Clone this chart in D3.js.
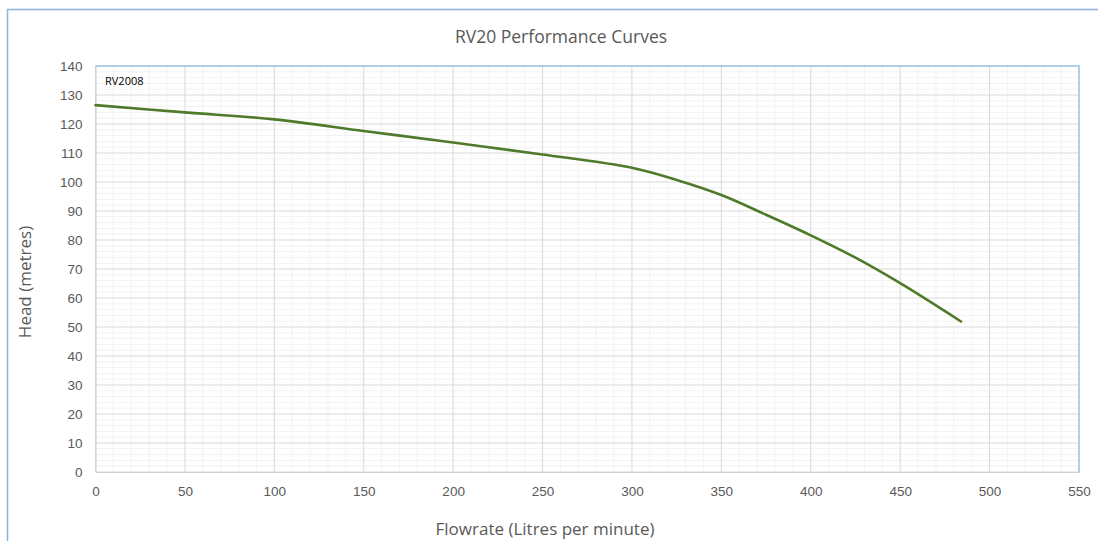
<!DOCTYPE html>
<html>
<head>
<meta charset="utf-8">
<script src="https://cdn.jsdelivr.net/npm/d3@7"></script>
<style>
  html, body { margin: 0; padding: 0; background: #fff; }
  body { width: 1098px; height: 541px; overflow: hidden; }
  text { font-family: "Open Sans", "Liberation Sans", sans-serif; }
</style>
</head>
<body>
<div id="chart"></div>
<script>
// Values
const flowrate = [0, 50, 100, 150, 200, 250, 300, 325, 350, 375, 400, 425, 450, 484];
const head = [126.5, 124.0, 121.6, 117.6, 113.6, 109.5, 104.9, 100.7, 95.5, 88.7, 81.6, 73.9, 65.1, 51.9];
const xTicks = [0, 50, 100, 150, 200, 250, 300, 350, 400, 450, 500, 550];
const yTicks = [0, 10, 20, 30, 40, 50, 60, 70, 80, 90, 100, 110, 120, 130, 140];
const seriesName = 'RV2008';
const chartTitle = 'RV20 Performance Curves';

function drawChart() {
    const width = 1098, height = 541;
    const plot = { left: 95.5, right: 1079, top: 66, bottom: 472 };

    const svg = d3.select('#chart')
        .append('svg')
        .attr('width', width)
        .attr('height', height);

    // outer chart border (only top and left visible in the crop)
    svg.append('path')
        .attr('d', `M7.5,${height} V9.5 H${width}`)
        .attr('fill', 'none')
        .attr('stroke', '#8db3de')
        .attr('stroke-width', 1.5);

    const x = d3.scaleLinear().domain([0, 550]).range([plot.left, plot.right]);
    const y = d3.scaleLinear().domain([0, 140]).range([plot.bottom, plot.top]);

    // minor grid
    const grid = svg.append('g');
    grid.selectAll('.vminor')
        .data(d3.range(0, 551, 10).filter(v => v % 50 !== 0))
        .enter().append('line')
        .attr('x1', d => x(d)).attr('x2', d => x(d))
        .attr('y1', plot.top).attr('y2', plot.bottom)
        .attr('stroke', '#f2f2f2');
    grid.selectAll('.hminor')
        .data(d3.range(0, 141, 2).filter(v => v % 10 !== 0))
        .enter().append('line')
        .attr('y1', d => y(d)).attr('y2', d => y(d))
        .attr('x1', plot.left).attr('x2', plot.right)
        .attr('stroke', '#f2f2f2');

    // major grid
    grid.selectAll('.vmajor')
        .data(xTicks)
        .enter().append('line')
        .attr('x1', d => x(d)).attr('x2', d => x(d))
        .attr('y1', plot.top).attr('y2', plot.bottom)
        .attr('stroke', '#d9d9d9');
    grid.selectAll('.hmajor')
        .data(yTicks)
        .enter().append('line')
        .attr('y1', d => y(d)).attr('y2', d => y(d))
        .attr('x1', plot.left).attr('x2', plot.right)
        .attr('stroke', '#d9d9d9');

    // plot area border: top/right light blue
    svg.append('path')
        .attr('d', `M${plot.left},${plot.top} H${plot.right} V${plot.bottom}`)
        .attr('fill', 'none')
        .attr('stroke', '#9ec3e6')
        .attr('stroke-width', 1.5);

    // axes
    const xAxis = svg.append('g')
        .attr('transform', `translate(0,${plot.bottom})`)
        .call(d3.axisBottom(x).tickValues(xTicks).tickSize(0).tickPadding(14));
    const yAxis = svg.append('g')
        .attr('transform', `translate(${plot.left},0)`)
        .call(d3.axisLeft(y).tickValues(yTicks).tickSize(0).tickPadding(13));

    [xAxis, yAxis].forEach(ax => {
        ax.select('.domain').attr('stroke', '#d0d0d0').attr('stroke-width', 1.2);
        ax.selectAll('text')
            .attr('fill', '#595959')
            .style('font-size', '13.5px')
            .style('font-family', '"Liberation Sans", sans-serif');
    });

    // curve
    const line = d3.line()
        .x((d, i) => x(flowrate[i]))
        .y(d => y(d))
        .curve(d3.curveCatmullRom.alpha(0.5));

    svg.append('path')
        .datum(head)
        .attr('d', line)
        .attr('fill', 'none')
        .attr('stroke', '#4e7a2a')
        .attr('stroke-width', 2.6)
        .attr('stroke-linecap', 'round');

    // series label inside the plot
    svg.append('text')
        .attr('x', 105)
        .attr('y', 85)
        .attr('fill', '#000')
        .style('font-size', '11px')
        .text(seriesName);

    // titles
    svg.append('text')
        .attr('x', 561)
        .attr('y', 43)
        .attr('text-anchor', 'middle')
        .attr('fill', '#595959')
        .style('font-size', '17.5px')
        .text(chartTitle);

    svg.append('text')
        .attr('x', 545)
        .attr('y', 535)
        .attr('text-anchor', 'middle')
        .attr('fill', '#595959')
        .style('font-size', '17px')
        .text('Flowrate (Litres per minute)');

    svg.append('text')
        .attr('transform', 'translate(31,282) rotate(-90)')
        .attr('text-anchor', 'middle')
        .attr('fill', '#595959')
        .style('font-size', '17px')
        .text('Head (metres)');
}

document.addEventListener('DOMContentLoaded', drawChart);
</script>
</body>
</html>
